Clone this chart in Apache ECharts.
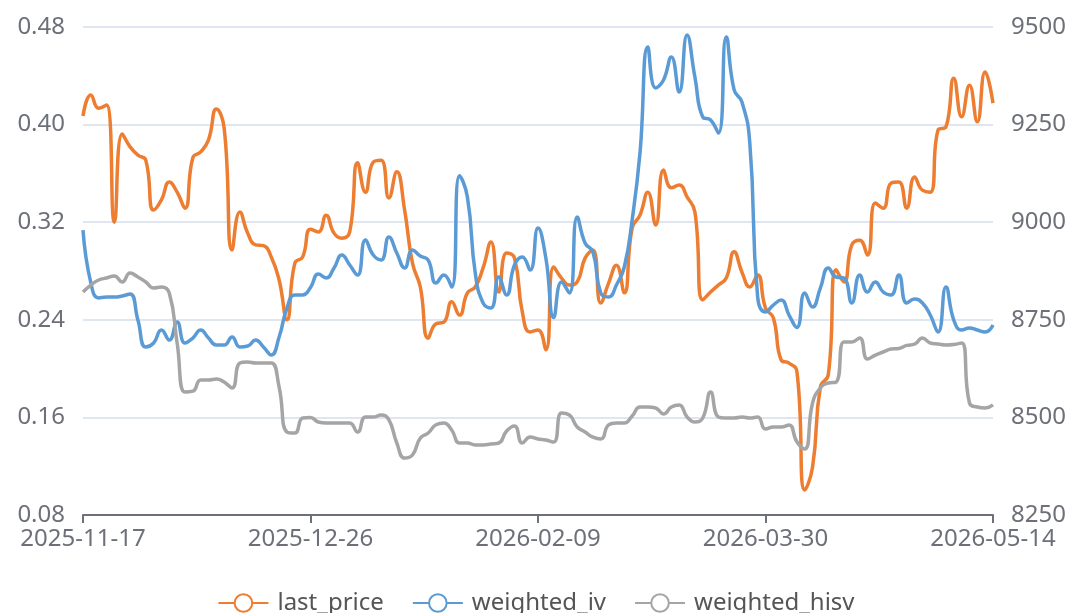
<!DOCTYPE html>
<html>
<head>
<meta charset="utf-8">
<script src="https://cdn.jsdelivr.net/npm/echarts@6/dist/echarts.min.js"></script>
<style>
  html, body { margin: 0; padding: 0; background: #fff; }
  #main { width: 1072px; height: 613px; }
</style>
</head>
<body>
<div id="main"></div>
<script>
// 交易日
var dates = [
  '2025-11-17','2025-11-18','2025-11-19','2025-11-20','2025-11-21','2025-11-24','2025-11-25','2025-11-26','2025-11-27','2025-11-28',
  '2025-12-01','2025-12-02','2025-12-03','2025-12-04','2025-12-05','2025-12-08','2025-12-09','2025-12-10','2025-12-11','2025-12-12',
  '2025-12-15','2025-12-16','2025-12-17','2025-12-18','2025-12-19','2025-12-22','2025-12-23','2025-12-24','2025-12-25','2025-12-26',
  '2025-12-29','2025-12-30','2025-12-31',
  '2026-01-05','2026-01-06','2026-01-07','2026-01-08','2026-01-09','2026-01-12','2026-01-13','2026-01-14','2026-01-15','2026-01-16',
  '2026-01-19','2026-01-20','2026-01-21','2026-01-22','2026-01-23','2026-01-26','2026-01-27','2026-01-28','2026-01-29','2026-01-30',
  '2026-02-02','2026-02-03','2026-02-04','2026-02-05','2026-02-06','2026-02-09','2026-02-10','2026-02-11','2026-02-12','2026-02-13',
  '2026-02-24','2026-02-25','2026-02-26','2026-02-27',
  '2026-03-02','2026-03-03','2026-03-04','2026-03-05','2026-03-06','2026-03-09','2026-03-10','2026-03-11','2026-03-12','2026-03-13',
  '2026-03-16','2026-03-17','2026-03-18','2026-03-19','2026-03-20','2026-03-23','2026-03-24','2026-03-25','2026-03-26','2026-03-27',
  '2026-03-30','2026-03-31',
  '2026-04-01','2026-04-02','2026-04-03','2026-04-07','2026-04-08','2026-04-09','2026-04-10',
  '2026-04-13','2026-04-14','2026-04-15','2026-04-16','2026-04-17','2026-04-20','2026-04-21','2026-04-22','2026-04-23','2026-04-24',
  '2026-04-27','2026-04-28','2026-04-29','2026-04-30',
  '2026-05-06','2026-05-07','2026-05-08','2026-05-11','2026-05-12','2026-05-13','2026-05-14'
];

// 标的价格（右轴）
var lastPrice = [
  9272, 9326, 9292, 9300, 9000, 9226, 9193, 9172, 9159, 9031,
  9057, 9103, 9077, 9036, 9165, 9180, 9211, 9290, 9240, 8929,
  9026, 8972, 8942, 8940, 8911, 8852, 8750, 8895, 8911, 8982,
  8975, 9018, 8972, 8959, 8975, 9152, 9077, 9154, 9159, 9062,
  9129, 9031, 8895, 8834, 8703, 8740, 8744, 8796, 8762, 8819,
  8834, 8883, 8949, 8821, 8921, 8908, 8770, 8719, 8724, 8673,
  8885, 8857, 8839, 8847, 8908, 8929, 8793, 8844, 8890, 8819,
  8985, 9018, 9077, 8993, 9134, 9088, 9095, 9065, 9026, 8801,
  8821, 8839, 8857, 8924, 8872, 8834, 8865, 8780, 8755, 8647,
  8639, 8618, 8314, 8373, 8578, 8609, 8878, 8847, 8942, 8954,
  8916, 9049, 9036, 9100, 9103, 9036, 9116, 9082, 9077, 9236,
  9244, 9369, 9270, 9351, 9257, 9385, 9305
];

// 加权隐含波动率（左轴）
var weightedIv = [
  0.3136, 0.2702, 0.2579, 0.2587, 0.2587, 0.2595, 0.2611, 0.2398, 0.2177, 0.2210,
  0.2316, 0.2234, 0.2382, 0.2210, 0.2250, 0.2316, 0.2251, 0.2193, 0.2193, 0.2259,
  0.2177, 0.2185, 0.2234, 0.2177, 0.2111, 0.2259, 0.2496, 0.2603, 0.2603, 0.2665,
  0.2775, 0.2743, 0.2825, 0.2931, 0.2849, 0.2767, 0.3054, 0.2931, 0.2890, 0.3079,
  0.2947, 0.2825, 0.2972, 0.2923, 0.2890, 0.2702, 0.2767, 0.2669, 0.3580, 0.3407,
  0.2783, 0.2538, 0.2497, 0.2751, 0.2603, 0.2849, 0.2915, 0.2808, 0.3152, 0.2906,
  0.2419, 0.2710, 0.2620, 0.3243, 0.3030, 0.2956, 0.2620, 0.2587, 0.2685, 0.2833,
  0.3218, 0.3767, 0.4636, 0.4300, 0.4366, 0.4554, 0.4267, 0.4734, 0.4390, 0.4062,
  0.4038, 0.3931, 0.4718, 0.4284, 0.4185, 0.3849, 0.2587, 0.2464, 0.2521, 0.2562,
  0.2439, 0.2337, 0.2620, 0.2505, 0.2661, 0.2825, 0.2751, 0.2743, 0.2538, 0.2767,
  0.2628, 0.2710, 0.2628, 0.2603, 0.2767, 0.2538, 0.2570, 0.2538, 0.2439, 0.2300,
  0.2669, 0.2398, 0.2316, 0.2333, 0.2316, 0.2300, 0.2357
];

// 加权历史波动率（左轴）
var weightedHisv = [
  0.2628, 0.2685, 0.2726, 0.2743, 0.2759, 0.2710, 0.2783, 0.2751, 0.2710, 0.2661,
  0.2669, 0.2620, 0.2210, 0.1808, 0.1815, 0.1907, 0.1907, 0.1915, 0.1890, 0.1841,
  0.2046, 0.2054, 0.2046, 0.2046, 0.2046, 0.1849, 0.1480, 0.1472, 0.1595, 0.1600,
  0.1562, 0.1554, 0.1554, 0.1554, 0.1554, 0.1480, 0.1603, 0.1603, 0.1620, 0.1579,
  0.1390, 0.1267, 0.1292, 0.1431, 0.1472, 0.1540, 0.1554, 0.1497, 0.1390, 0.1390,
  0.1374, 0.1374, 0.1382, 0.1390, 0.1489, 0.1530, 0.1390, 0.1439, 0.1423, 0.1415,
  0.1398, 0.1636, 0.1620, 0.1521, 0.1480, 0.1439, 0.1423, 0.1538, 0.1554, 0.1554,
  0.1611, 0.1685, 0.1685, 0.1677, 0.1628, 0.1685, 0.1702, 0.1603, 0.1562, 0.1595,
  0.1808, 0.1603, 0.1595, 0.1595, 0.1603, 0.1595, 0.1603, 0.1505, 0.1521, 0.1521,
  0.1538, 0.1400, 0.1341, 0.1718, 0.1841, 0.1882, 0.1890, 0.2218, 0.2218, 0.2251,
  0.2079, 0.2111, 0.2136, 0.2160, 0.2165, 0.2190, 0.2200, 0.2251, 0.2210, 0.2202,
  0.2193, 0.2197, 0.2210, 0.1718, 0.1685, 0.1677, 0.1702
];

var seriesNames = ['last_price', 'weighted_iv', 'weighted_hisv'];
var colors = ['#ED7D31', '#5B9BD5', '#A5A5A5'];

var fontFamily = '"Noto Sans", "Open Sans", sans-serif';
var labelColor = '#6E7079';
var fontSize = 24;

var myChart = echarts.init(document.getElementById('main'));

function lineSeries(name, data, axisIndex) {
  return {
    name: name,
    type: 'line',
    yAxisIndex: axisIndex,
    data: data,
    smooth: true,
    symbol: 'emptyCircle',
    symbolSize: 8,
    showSymbol: false,
    lineStyle: { width: 3.5 }
  };
}

var option = {
  animation: false,
  color: colors,
  textStyle: { fontFamily: fontFamily },
  grid: {
    left: 83,
    right: 79,
    top: 27,
    bottom: 98,
    containLabel: false,
    outerBoundsMode: 'none'
  },
  legend: {
    data: seriesNames,
    left: 'center',
    top: 586,
    itemWidth: 50,
    itemHeight: 22,
    itemGap: 28,
    textStyle: { fontSize: fontSize, color: '#555', fontFamily: fontFamily, padding: [0, 0, 0, 4] }
  },
  xAxis: {
    type: 'category',
    data: dates,
    boundaryGap: false,
    axisLine: { lineStyle: { color: labelColor, width: 2 } },
    axisTick: { interval: 28, length: 8, lineStyle: { color: labelColor, width: 2 } },
    axisLabel: {
      interval: 28,
      margin: 12,
      fontSize: fontSize,
      color: labelColor,
      fontFamily: fontFamily
    }
  },
  yAxis: [
    {
      type: 'value',
      min: 0.08,
      max: 0.48,
      interval: 0.08,
      axisLine: { show: false },
      axisTick: { show: false },
      axisLabel: {
        margin: 18,
        fontSize: fontSize,
        color: labelColor,
        fontFamily: fontFamily,
        formatter: function (v) { return v.toFixed(2); }
      },
      splitLine: { lineStyle: { color: '#E0E6F1', width: 2 } }
    },
    {
      type: 'value',
      min: 8250,
      max: 9500,
      interval: 250,
      axisLine: { show: false },
      axisTick: { show: false },
      axisLabel: {
        margin: 18,
        fontSize: fontSize,
        color: labelColor,
        fontFamily: fontFamily,
        formatter: function (v) { return String(v); }
      },
      splitLine: { show: false }
    }
  ],
  series: [
    lineSeries(seriesNames[0], lastPrice, 1),
    lineSeries(seriesNames[1], weightedIv, 0),
    lineSeries(seriesNames[2], weightedHisv, 0)
  ]
};

myChart.setOption(option);
</script>
</body>
</html>
